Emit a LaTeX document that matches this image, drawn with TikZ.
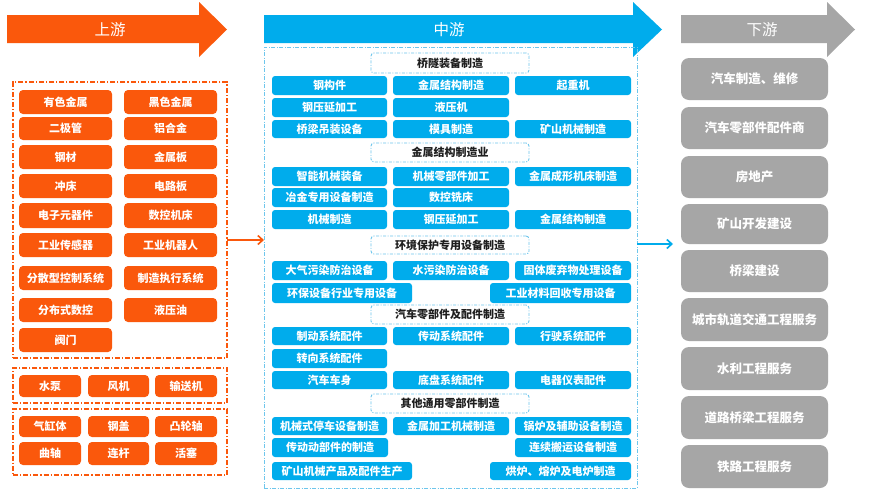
\documentclass[tikz,border=0pt]{standalone}
\usepackage{fontspec}
\setmainfont{Noto Sans CJK SC}
\usetikzlibrary{arrows.meta}
\definecolor{upor}{RGB}{250,88,12}
\definecolor{midbl}{RGB}{0,172,236}
\definecolor{dngr}{RGB}{166,166,166}
\definecolor{frbl}{RGB}{110,198,236}
\definecolor{hdtx}{RGB}{30,30,30}
\newcommand\bx[7]{\node[#1,minimum width={(#5-#3)*1pt},minimum height={(#6-#4)*1pt}] (#2) at ({(#3+#5)/2},{(#4+#6)/2}) {#7};}
\tikzset{
  basebox/.style={inner sep=0pt,outer sep=0pt,align=center},
  obox/.style={basebox,fill=upor,rounded corners=4pt,text=white,font=\fontsize{11}{13}\selectfont\bfseries},
  bbox/.style={basebox,fill=midbl,rounded corners=3pt,text=white,font=\fontsize{11}{13}\selectfont\bfseries},
  gbox/.style={basebox,fill=dngr,rounded corners=8pt,text=white,font=\fontsize{12.5}{14}\selectfont\bfseries},
  hbox/.style={basebox,draw=frbl,line width=0.9pt,rounded corners=3pt,dash pattern=on 3pt off 1.5pt on 1pt off 1.5pt,text=hdtx,font=\fontsize{11}{13}\selectfont\bfseries},
  oframe/.style={basebox,draw=upor,line width=1.3pt,dash pattern=on 5pt off 2pt on 1.2pt off 2pt},
  bframe/.style={basebox,draw=frbl,line width=0.9pt,dash pattern=on 4pt off 1.5pt on 1pt off 1.5pt},
  ttl/.style={inner sep=0pt,text=white,font=\fontsize{15.5}{17}\selectfont},
  oconn/.style={draw=upor,line width=1.6pt,-{Straight Barb[length=5pt,width=9pt]}},
  bconn/.style={draw=midbl,line width=1.6pt,-{Straight Barb[length=5pt,width=9pt]}},
}
\begin{document}
\begin{tikzpicture}[x=1pt,y=-1pt]
\useasboundingbox (0,0) rectangle (872,491);
\fill[white] (0,0) rectangle (872,491);
% title arrows
\fill[upor] (7,15) -- (199,15) -- (199,2) -- (227,29.5) -- (199,57) -- (199,43) -- (7,43) -- cycle;
\node[ttl] (tup) at (110,29.5) {上游};
\fill[midbl] (264,15) -- (633,15) -- (633,2) -- (662,29.5) -- (633,57) -- (633,43) -- (264,43) -- cycle;
\node[ttl] (tmid) at (449,29.5) {中游};
\fill[dngr] (681,15) -- (827,15) -- (827,2) -- (855,29.5) -- (827,57) -- (827,43) -- (681,43) -- cycle;
\node[ttl] (tdn) at (762,29.5) {下游};
% upstream frames
\bx{oframe}{uf1}{13}{82}{227}{358}{}
\bx{oframe}{uf2}{13}{368}{227}{403}{}
\bx{oframe}{uf3}{13}{409}{227}{475}{}
% upstream boxes
\bx{obox}{u1a}{19}{90}{112}{114}{有色金属}
\bx{obox}{u1b}{124}{90}{217}{114}{黑色金属}
\bx{obox}{u2a}{19}{117}{112}{140}{二极管}
\bx{obox}{u2b}{124}{117}{217}{140}{铝合金}
\bx{obox}{u3a}{19}{145}{112}{169}{钢材}
\bx{obox}{u3b}{124}{145}{217}{169}{金属板}
\bx{obox}{u4a}{19}{174}{112}{198}{冲床}
\bx{obox}{u4b}{124}{174}{217}{198}{电路板}
\bx{obox}{u5a}{19}{203}{112}{228}{电子元器件}
\bx{obox}{u5b}{124}{203}{217}{228}{数控机床}
\bx{obox}{u6a}{19}{233}{112}{257}{工业传感器}
\bx{obox}{u6b}{124}{233}{217}{257}{工业机器人}
\bx{obox}{u7a}{19}{266}{112}{290}{分散型控制系统}
\bx{obox}{u7b}{124}{266}{217}{290}{制造执行系统}
\bx{obox}{u8a}{19}{298}{112}{322}{分布式数控}
\bx{obox}{u8b}{124}{298}{217}{322}{液压油}
\bx{obox}{u9a}{19}{328}{112}{352}{阀门}
\bx{obox}{v1}{19}{375}{81}{397}{水泵}
\bx{obox}{v2}{88}{375}{149}{397}{风机}
\bx{obox}{v3}{155}{375}{217}{397}{输送机}
\bx{obox}{w1}{19}{416}{81}{437}{气缸体}
\bx{obox}{w2}{88}{416}{149}{437}{钢盖}
\bx{obox}{w3}{155}{416}{217}{437}{凸轮轴}
\bx{obox}{w4}{19}{442}{81}{465}{曲轴}
\bx{obox}{w5}{88}{442}{149}{465}{连杆}
\bx{obox}{w6}{155}{442}{217}{465}{活塞}
% middle frame
\bx{bframe}{mf}{264}{47}{637}{488}{}
% headers
\bx{hbox}{h1}{371}{53}{529}{73}{桥隧装备制造}
\bx{hbox}{h2}{371}{143}{529}{162}{金属结构制造业}
\bx{hbox}{h3}{371}{236}{529}{254}{环境保护专用设备制造}
\bx{hbox}{h4}{371}{305}{529}{324}{汽车零部件及配件制造}
\bx{hbox}{h5}{371}{394}{529}{413}{其他通用零部件制造}
% section 1
\bx{bbox}{m11}{272}{76}{387}{95}{钢构件}
\bx{bbox}{m12}{393}{76}{509}{95}{金属结构制造}
\bx{bbox}{m13}{515}{76}{631}{95}{起重机}
\bx{bbox}{m14}{272}{98}{387}{117}{钢压延加工}
\bx{bbox}{m15}{393}{98}{509}{117}{液压机}
\bx{bbox}{m16}{272}{120}{387}{138}{桥梁吊装设备}
\bx{bbox}{m17}{393}{120}{509}{138}{模具制造}
\bx{bbox}{m18}{515}{120}{631}{138}{矿山机械制造}
% section 2
\bx{bbox}{m21}{272}{167}{387}{186}{智能机械装备}
\bx{bbox}{m22}{393}{167}{509}{186}{机械零部件加工}
\bx{bbox}{m23}{515}{167}{631}{186}{金属成形机床制造}
\bx{bbox}{m24}{272}{188}{387}{207}{冶金专用设备制造}
\bx{bbox}{m25}{393}{188}{509}{207}{数控铣床}
\bx{bbox}{m26}{272}{210}{387}{229}{机械制造}
\bx{bbox}{m27}{393}{210}{509}{229}{钢压延加工}
\bx{bbox}{m28}{515}{210}{631}{229}{金属结构制造}
% section 3
\bx{bbox}{m31}{272}{261}{387}{280}{大气污染防治设备}
\bx{bbox}{m32}{393}{261}{509}{280}{水污染防治设备}
\bx{bbox}{m33}{515}{261}{631}{280}{固体废弃物处理设备}
\bx{bbox}{m34}{272}{283}{412}{303}{环保设备行业专用设备}
\bx{bbox}{m35}{490}{283}{631}{303}{工业材料回收专用设备}
% section 4
\bx{bbox}{m41}{272}{327}{387}{345}{制动系统配件}
\bx{bbox}{m42}{393}{327}{509}{345}{传动系统配件}
\bx{bbox}{m43}{515}{327}{631}{345}{行驶系统配件}
\bx{bbox}{m44}{272}{349}{387}{368}{转向系统配件}
\bx{bbox}{m45}{272}{371}{387}{389}{汽车车身}
\bx{bbox}{m46}{393}{371}{509}{389}{底盘系统配件}
\bx{bbox}{m47}{515}{371}{631}{389}{电器仪表配件}
% section 5
\bx{bbox}{m51}{272}{417}{387}{435}{机械式停车设备制造}
\bx{bbox}{m52}{393}{417}{509}{435}{金属加工机械制造}
\bx{bbox}{m53}{515}{417}{631}{435}{锅炉及辅助设备制造}
\bx{bbox}{m54}{272}{438}{388}{457}{传动动部件的制造}
\bx{bbox}{m55}{515}{438}{631}{457}{连续搬运设备制造}
\bx{bbox}{m56}{272}{462}{412}{480}{矿山机械产品及配件生产}
\bx{bbox}{m57}{490}{462}{631}{480}{烘炉、熔炉及电炉制造}
% downstream
\bx{gbox}{d1}{681}{58}{828}{100}{汽车制造、维修}
\bx{gbox}{d2}{681}{107}{828}{149}{汽车零部件配件商}
\bx{gbox}{d3}{681}{156}{828}{198}{房地产}
\bx{gbox}{d4}{681}{204}{828}{244}{矿山开发建设}
\bx{gbox}{d5}{681}{250}{828}{292}{桥梁建设}
\bx{gbox}{d6}{681}{298}{828}{341}{城市轨道交通工程服务}
\bx{gbox}{d7}{681}{347}{828}{390}{水利工程服务}
\bx{gbox}{d8}{681}{396}{828}{439}{道路桥梁工程服务}
\bx{gbox}{d9}{681}{445}{828}{488}{铁路工程服务}
% connectors
\coordinate (ya) at (0,240);
\coordinate (yb) at (673,244);
\draw[oconn] (uf1.east |- ya) -- (mf.west |- ya);
\draw[bconn] (mf.east |- yb) -- (yb);
\end{tikzpicture}
\end{document}
